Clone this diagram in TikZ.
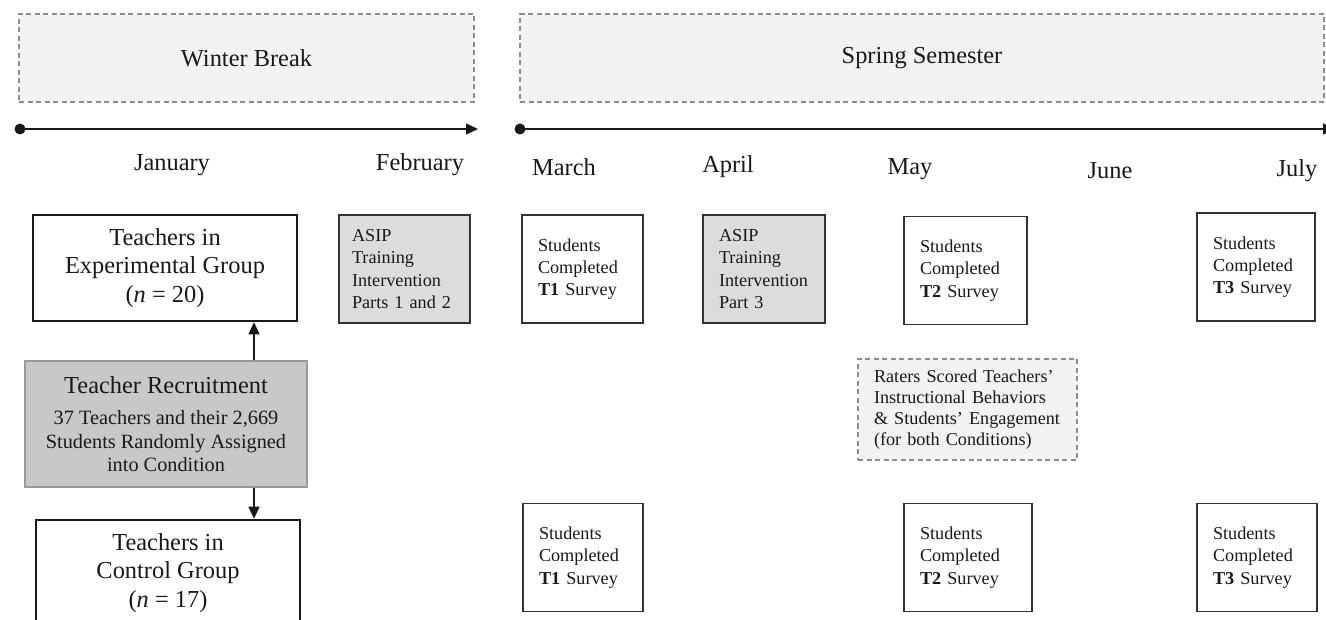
\documentclass[tikz,border=0pt]{standalone}
\usepackage{fontspec}
\setmainfont{Liberation Serif}
\usetikzlibrary{arrows.meta}

\definecolor{seasonfill}{HTML}{F2F2F4}
\definecolor{asipfill}{HTML}{DCDCDE}
\definecolor{recruitfill}{HTML}{C8C8CA}

\begin{document}
\begin{tikzpicture}[x=1pt, y=-1pt, every node/.style={text=black!90}, >={Triangle[length=12pt, width=11pt]},
	season/.style={draw=black!45, fill=seasonfill, line width=1.1pt, dash pattern=on 5pt off 3.5pt, font=\fontsize{24.4}{28}\selectfont},
	month/.style={font=\fontsize{24.4}{28}\selectfont},
	grpbox/.style={draw=black!90, line width=2.6pt, fill=white, align=center, minimum width=264pt, minimum height=106pt, font=\fontsize{24.4}{28.5}\selectfont},
	recruit/.style={draw=black!40, line width=1.4pt, fill=recruitfill, align=center, minimum width=282pt, minimum height=126pt, font=\fontsize{20.3}{23.3}\selectfont},
	task/.style={draw=black!80, line width=1.3pt, fill=white, align=left, inner xsep=16pt, minimum height=108pt, font=\fontsize{18.2}{22.3}\selectfont},
	asip/.style={task, fill=asipfill},
	rating/.style={season, align=left, inner xsep=16pt, minimum height=101pt, font=\fontsize{18.2}{21}\selectfont},
	dot/.style={circle, fill=black!90, inner sep=0pt, minimum size=11pt},
	timeline/.style={->, line width=1.4pt, black!90}]
	\fill[white] (0,0) rectangle (1326,620);
	\useasboundingbox (0,0) rectangle (1326,620);
	\clip (0,0) rectangle (1326,620);
	% seasons and time axis
	\node[season, minimum width=455pt, minimum height=88pt] (winter) at (246.5,58) {Winter Break};
	\node[season, minimum width=804pt, minimum height=88pt] (spring) at (922,58) {Spring Semester};
	\node[dot] (wdot) at (20,129) {};
	\coordinate (wend) at (478,129);
	\draw[timeline] (wdot.center) -- (wend);
	\node[dot] (sdot) at (520,129) {};
	\coordinate (send) at (1335,129);
	\draw[timeline] (sdot.center) -- (send);
	\node[month] (jan) at (172,165) {January};
	\node[month] (feb) at (420,165) {February};
	\node[month] (mar) at (564,167) {March};
	\node[month] (apr) at (728,167) {April};
	\node[month] (may) at (910,169) {May};
	\node[month] (jun) at (1110,171) {June};
	\node[month] (jul) at (1297,171) {July};
	% groups
	\node[grpbox] (expgrp) at (165,268) {Teachers in\\Experimental Group\\(\textit{n} = 20)};
	\node[recruit] (recruit) at (166,424) {{\fontsize{24.4}{28}\selectfont Teacher Recruitment}\\[8pt]37 Teachers and their 2,669\\Students Randomly Assigned\\into Condition};
	\node[grpbox] (ctrlgrp) at (168,573) {Teachers in\\Control Group\\(\textit{n} = 17)};
	\coordinate (upfrom) at ([xshift=88pt]recruit.north);
	\draw[->, line width=1.4pt, black!90] (upfrom) -- (upfrom |- expgrp.south);
	\coordinate (downfrom) at ([xshift=88pt]recruit.south);
	\draw[->, line width=1.4pt, black!90] (downfrom) -- (downfrom |- ctrlgrp.north);
	% experimental condition
	\node[asip, inner xsep=13pt, text width=105pt] (asip1) at (404.5,269) {ASIP\\Training\\Intervention\\Parts 1 and 2};
	\node[task, text width=89pt] (t1a) at (582.5,269) {Students\\Completed\\\textbf{T1} Survey};
	\node[asip, text width=90pt] (asip3) at (764,269) {ASIP\\Training\\Intervention\\Part 3};
	\node[task, text width=91pt] (t2a) at (965.5,270.5) {Students\\Completed\\\textbf{T2} Survey};
	\node[task, text width=86pt] (t3a) at (1256,267) {Students\\Completed\\\textbf{T3} Survey};
	% ratings
	\node[rating, text width=187pt] (raters) at (967.5,409.5) {Raters Scored Teachers'\\Instructional Behaviors\\\& Students' Engagement\\(for both Conditions)};
	% control condition
	\node[task, text width=88pt] (t1b) at (583,557.5) {Students\\Completed\\\textbf{T1} Survey};
	\node[task, text width=96pt] (t2b) at (968,557.5) {Students\\Completed\\\textbf{T2} Survey};
	\node[task, text width=88pt] (t3b) at (1257,557.5) {Students\\Completed\\\textbf{T3} Survey};
\end{tikzpicture}
\end{document}
